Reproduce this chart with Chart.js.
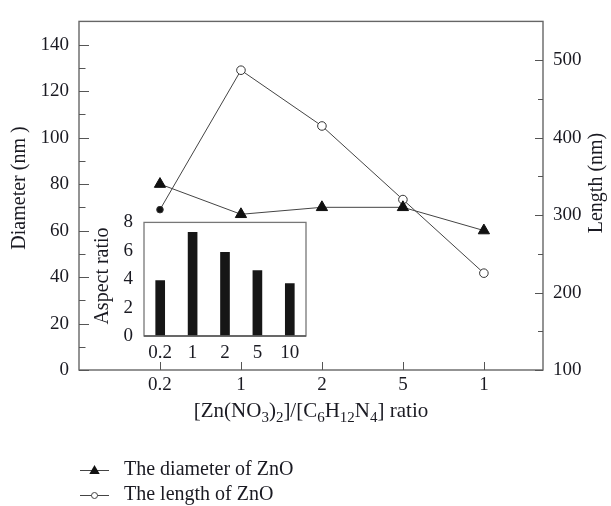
<!DOCTYPE html>
<html>
<head>
<meta charset="utf-8">
<script src="https://cdn.jsdelivr.net/npm/chart.js@4.4.1/dist/chart.umd.min.js"></script>
<style>
  body { margin: 0; background: #fff; }
  #wrap { position: relative; width: 611px; height: 506px; }
  #main { position: absolute; left: 0; top: 0; }
  #inset { position: absolute; left: 80px; top: 200px; }
</style>
</head>
<body>
<div id="wrap">
  <canvas id="main" width="611" height="506"></canvas>
  <canvas id="inset" width="240" height="175"></canvas>
</div>
<script>
// values
const xLabels = ['0.2', '1', '2', '5', '1'];
const diameter = [80, 67, 70, 70, 60];          // nm, left axis
const lengthNm = [307, 487, 415, 320, 225];     // nm, right axis
const diamTicks = [0, 20, 40, 60, 80, 100, 120, 140];
const diamMinor = [10, 30, 50, 70, 90, 110, 130];
const lengthTicks = [100, 200, 300, 400, 500];
const lengthMinor = [150, 250, 350, 450];

const insetLabels = ['0.2', '1', '2', '5', '10'];
const aspectRatio = [3.9, 7.3, 5.9, 4.6, 3.7];
const aspectTicks = [0, 2, 4, 6, 8];

const FONT = "'Liberation Serif', 'Times New Roman', serif";
const INK = '#1a1a22';
const LINE = '#444';

const xTitle = [['[Zn(NO', false], ['3', true], [')', false], ['2', true], [']/[C', false],
                ['6', true], ['H', false], ['12', true], ['N', false], ['4', true], ['] ratio', false]];

function rotatedText(ctx, text, x, y, angle) {
  ctx.save();
  ctx.translate(x, y);
  ctx.rotate(angle);
  ctx.textAlign = 'center';
  ctx.textBaseline = 'middle';
  ctx.fillText(text, 0, 0);
  ctx.restore();
}

function drawSubTitle(ctx, parts, cx, baseline) {
  const big = '21px ' + FONT, small = '15px ' + FONT;
  let total = 0;
  parts.forEach(([t, s]) => { ctx.font = s ? small : big; total += ctx.measureText(t).width; });
  let x = cx - total / 2;
  ctx.textAlign = 'left';
  ctx.textBaseline = 'alphabetic';
  parts.forEach(([t, s]) => {
    ctx.font = s ? small : big;
    ctx.fillText(t, x, baseline + (s ? 5 : 0));
    x += ctx.measureText(t).width;
  });
}

function triangle(ctx, x, y, r) {
  ctx.beginPath();
  ctx.moveTo(x, y - r);
  ctx.lineTo(x + r * 0.866, y + r * 0.5);
  ctx.lineTo(x - r * 0.866, y + r * 0.5);
  ctx.closePath();
  ctx.fill();
}

const frame = {
  id: 'frame',
  beforeDatasetsDraw(chart) {
    const { ctx, chartArea: a, scales } = chart;
    ctx.save();
    ctx.strokeStyle = '#666';
    ctx.lineWidth = 1.4;
    ctx.strokeRect(a.left, a.top, a.right - a.left, a.bottom - a.top);
    ctx.strokeStyle = '#555';
    ctx.lineWidth = 1;
    ctx.beginPath();
    const hTick = (scale, v, x0, len) => {
      const y = Math.round(scale.getPixelForValue(v)) + 0.5;
      ctx.moveTo(x0, y); ctx.lineTo(x0 + len, y);
    };
    diamTicks.forEach(v => hTick(scales.y, v, a.left, 10));
    diamMinor.forEach(v => hTick(scales.y, v, a.left, 6.5));
    lengthTicks.forEach(v => hTick(scales.y2, v, a.right, -8));
    lengthMinor.forEach(v => hTick(scales.y2, v, a.right, -5));
    xLabels.forEach((l, i) => {
      const x = Math.round(scales.x.getPixelForValue(i)) + 0.5;
      ctx.moveTo(x, a.bottom); ctx.lineTo(x, a.bottom - 8);
    });
    ctx.stroke();
    ctx.restore();
  },
  afterDraw(chart) {
    const { ctx, chartArea: a } = chart;
    ctx.save();
    ctx.fillStyle = INK;
    ctx.font = '20px ' + FONT;
    rotatedText(ctx, 'Diameter (nm )', 20, 188, -Math.PI / 2);
    rotatedText(ctx, 'Length (nm)', 597, 183, -Math.PI / 2);
    drawSubTitle(ctx, xTitle, (a.left + a.right) / 2, 417);

    // legend
    const rows = [{ y: 470, text: chart.data.datasets[0].label, mark: 'tri' },
                  { y: 495, text: chart.data.datasets[1].label, mark: 'circ' }];
    rows.forEach(r => {
      ctx.strokeStyle = LINE;
      ctx.lineWidth = 1;
      ctx.beginPath();
      ctx.moveTo(80, r.y + 0.5); ctx.lineTo(109, r.y + 0.5);
      ctx.stroke();
      if (r.mark === 'tri') {
        ctx.fillStyle = '#111';
        triangle(ctx, 94.5, r.y + 1, 6);
      } else {
        ctx.fillStyle = '#fff';
        ctx.beginPath();
        ctx.arc(94.5, r.y + 0.5, 3, 0, Math.PI * 2);
        ctx.fill();
        ctx.stroke();
      }
      ctx.fillStyle = INK;
      ctx.font = '20px ' + FONT;
      ctx.textAlign = 'left';
      ctx.textBaseline = 'middle';
      ctx.fillText(r.text, 124, r.y);
    });
    ctx.restore();
  }
};

new Chart(document.getElementById('main'), {
  type: 'line',
  data: {
    datasets: [
      {
        label: 'The diameter of ZnO',
        data: diameter.map((v, i) => ({ x: i, y: v })),
        yAxisID: 'y',
        borderColor: LINE,
        borderWidth: 1,
        pointStyle: 'triangle',
        pointRadius: 6.5,
        pointBackgroundColor: '#111',
        pointBorderColor: '#111',
        pointBorderWidth: 1
      },
      {
        label: 'The length of ZnO',
        data: lengthNm.map((v, i) => ({ x: i, y: v })),
        yAxisID: 'y2',
        borderColor: LINE,
        borderWidth: 1,
        pointStyle: 'circle',
        pointRadius: lengthNm.map((v, i) => i === 0 ? 3.3 : 4.3),
        pointBackgroundColor: lengthNm.map((v, i) => i === 0 ? '#111' : '#fff'),
        pointBorderColor: '#333',
        pointBorderWidth: 1
      }
    ]
  },
  options: {
    responsive: false,
    animation: false,
    layout: { padding: { top: 14, left: 0, right: 0, bottom: 0 } },
    plugins: { legend: { display: false }, tooltip: { enabled: false } },
    scales: {
      x: {
        type: 'linear',
        min: -1,
        max: 4.73,
        afterBuildTicks: s => { s.ticks = xLabels.map((l, i) => ({ value: i })); },
        afterFit: s => { s.height = 136; },
        ticks: {
          callback: v => xLabels[v],
          font: { family: FONT, size: 19 },
          color: INK,
          padding: 4,
          maxRotation: 0,
          autoSkip: false
        },
        grid: { display: false, drawTicks: false },
        border: { display: false }
      },
      y: {
        position: 'left',
        min: 0,
        max: 150,
        afterBuildTicks: s => { s.ticks = diamTicks.map(v => ({ value: v })); },
        afterFit: s => { s.width = 79; },
        ticks: { font: { family: FONT, size: 19 }, color: INK, padding: 10 },
        grid: { display: false, drawTicks: false },
        border: { display: false }
      },
      y2: {
        position: 'right',
        min: 100,
        max: 550,
        afterBuildTicks: s => { s.ticks = lengthTicks.map(v => ({ value: v })); },
        afterFit: s => { s.width = 68; },
        ticks: { font: { family: FONT, size: 19 }, color: INK, padding: 10 },
        grid: { display: false, drawTicks: false },
        border: { display: false }
      }
    }
  },
  plugins: [frame]
});

// inset: aspect ratio bars
const insetFrame = {
  id: 'insetFrame',
  afterDatasetsDraw(chart) {
    const { ctx, chartArea: a } = chart;
    ctx.save();
    ctx.strokeStyle = '#777';
    ctx.lineWidth = 1.3;
    ctx.strokeRect(a.left, a.top, a.right - a.left, a.bottom - a.top);
    ctx.strokeStyle = '#555';
    ctx.beginPath();
    ctx.moveTo(a.left, a.bottom); ctx.lineTo(a.right, a.bottom);
    ctx.stroke();
    ctx.fillStyle = INK;
    ctx.font = '20px ' + FONT;
    rotatedText(ctx, 'Aspect ratio', 23, 76, -Math.PI / 2);
    ctx.restore();
  }
};

new Chart(document.getElementById('inset'), {
  type: 'bar',
  data: {
    labels: insetLabels,
    datasets: [{ data: aspectRatio, backgroundColor: '#161616', barThickness: 9 }]
  },
  options: {
    responsive: false,
    animation: false,
    layout: { padding: { top: 17, right: 14, left: 0, bottom: 0 } },
    plugins: { legend: { display: false }, tooltip: { enabled: false } },
    scales: {
      x: {
        afterFit: s => { s.height = 39; },
        ticks: { font: { family: FONT, size: 19 }, color: INK, padding: 6, maxRotation: 0 },
        grid: { display: false, drawTicks: false },
        border: { display: false }
      },
      y: {
        min: 0,
        max: 8,
        afterBuildTicks: s => { s.ticks = aspectTicks.map(v => ({ value: v })); },
        afterFit: s => { s.width = 64; },
        ticks: { font: { family: FONT, size: 19 }, color: INK, padding: 11 },
        grid: { display: false, drawTicks: false },
        border: { display: false }
      }
    }
  },
  plugins: [insetFrame]
});
</script>
</body>
</html>
